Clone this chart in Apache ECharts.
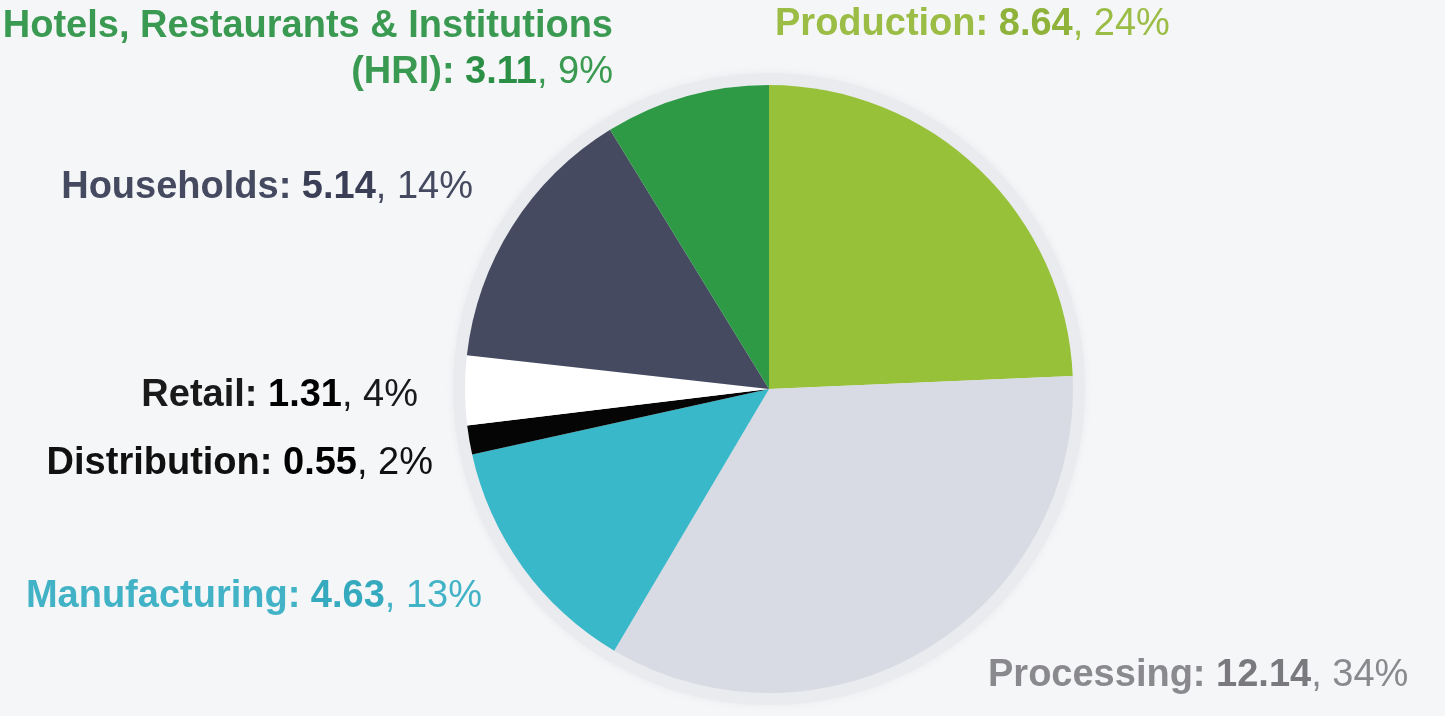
<!DOCTYPE html>
<html>
<head>
<meta charset="utf-8">
<script src="https://cdn.jsdelivr.net/npm/echarts@6/dist/echarts.min.js"></script>
<style>
  html, body { margin: 0; padding: 0; background: #f5f6f8; }
  #chart { width: 1445px; height: 716px; }
</style>
</head>
<body>
<div id="chart"></div>
<script>
// data, clockwise from 12 o'clock
const categories = ['Production', 'Processing', 'Manufacturing', 'Distribution', 'Retail', 'Households', 'Hotels, Restaurants & Institutions (HRI)']
const labelNames = ['Production', 'Processing', 'Manufacturing', 'Distribution', 'Retail', 'Households', 'Hotels, Restaurants & Institutions\n(HRI)']
const values = [8.64, 12.14, 4.63, 0.55, 1.31, 5.14, 3.11]
const percents = ['24%', '34%', '13%', '2%', '4%', '14%', '9%']

const sliceColors = ['#98c13a', '#d8dbe3', '#38b8c9', '#050505', '#ffffff', '#454a60', '#2e9a45']
const textColors = ['#9bbd45', '#8a8a8e', '#42b3c6', '#111111', '#1a1a1a', '#454a60', '#3a9a52']
const valueColors = ['#8fb33a', '#7a7a7e', '#35a9bd', '#000000', '#000000', '#3a3f55', '#2b8f45']
// label anchor: [x, y, align]
const labelPos = [
  [775, 25, 'left'],
  [988, 676, 'left'],
  [482, 597, 'right'],
  [433, 464, 'right'],
  [418, 396, 'right'],
  [473, 188, 'right'],
  [613, 50, 'right']
]
const FONT = '"Liberation Sans", Arial, sans-serif'
const FS = 38

const chart = echarts.init(document.getElementById('chart'))

const seriesData = values.map((v, i) => {
  const lines = labelNames[i].split('\n')
  const last = lines.pop()
  const head = lines.map(l => '{n|' + l + '}').join('\n')
  const text = (head ? head + '\n' : '') + '{n|' + last + ': }{v|' + v.toFixed(2) + '}{p|, ' + percents[i] + '}'
  return {
    name: categories[i],
    value: v,
    itemStyle: { color: sliceColors[i] },
    label: {
      formatter: text,
      fontFamily: FONT,
      fontSize: FS,
      rich: {
        n: { color: textColors[i], fontWeight: 'bold', fontSize: FS, fontFamily: FONT, lineHeight: 46 },
        v: { color: valueColors[i], fontWeight: 'bold', fontSize: FS, fontFamily: FONT, lineHeight: 46 },
        p: { color: textColors[i], fontWeight: 'normal', fontSize: FS, fontFamily: FONT, lineHeight: 46 }
      }
    }
  }
})

chart.setOption({
  backgroundColor: '#f5f6f8',
  animation: false,
  graphic: [
    {
      type: 'circle',
      z: 0,
      silent: true,
      shape: { cx: 769, cy: 389, r: 316 },
      style: { fill: '#eaebef', shadowBlur: 10, shadowColor: 'rgba(0,0,0,0.05)' }
    }
  ],
  series: [
    {
      type: 'pie',
      center: [769, 389],
      radius: [0, 304],
      startAngle: 90,
      clockwise: true,
      avoidLabelOverlap: false,
      label: { show: true, position: 'outside' },
      labelLine: { show: false },
      labelLayout: function (params) {
        const p = labelPos[params.dataIndex]
        return { x: p[0], y: p[1], align: p[2], verticalAlign: 'middle' }
      },
      emphasis: { disabled: true },
      data: seriesData
    }
  ]
})
</script>
</body>
</html>
